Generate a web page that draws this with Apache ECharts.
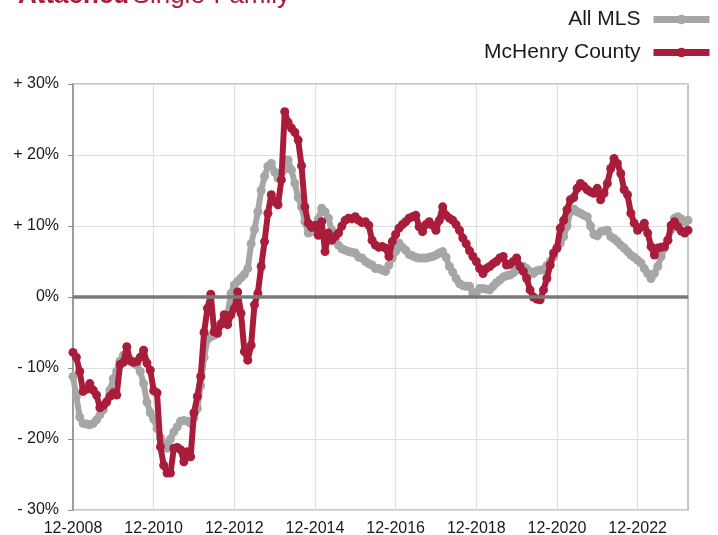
<!DOCTYPE html>
<html>
<head>
<meta charset="utf-8">
<script src="https://cdn.jsdelivr.net/npm/echarts@6/dist/echarts.min.js"></script>
<style>
  html, body { margin: 0; padding: 0; background: #fff; }
  #chart { width: 718px; height: 535px; }
</style>
</head>
<body>
<div id="chart"></div>
<script>
// months 12-2008 .. 03-2024
var months = [];
(function(){
  var y = 2008, m = 12;
  for (var i = 0; i < 184; i++) {
    months.push((m < 10 ? '0' + m : '' + m) + '-' + y);
    m++; if (m > 12) { m = 1; y++; }
  }
})();

var xTickLabels = ['12-2008','12-2010','12-2012','12-2014','12-2016','12-2018','12-2020','12-2022'];
var yTickLabels = ['- 30%','- 20%','- 10%','0%','+ 10%','+ 20%','+ 30%'];

var allMLS = [
  -11.2,-14.0,-16.9,-17.8,-17.9,-18.0,-17.8,-17.3,-16.6,-15.9,-14.7,-13.1,-11.5,-10.5,-9.0,-8.2,
  -8.4,-8.8,-9.3,-9.6,-10.5,-12.2,-14.8,-16.3,-17.2,-18.5,-19.8,-20.6,-21.3,-20.0,-19.0,-18.3,
  -17.5,-17.4,-17.5,-17.8,-17.0,-15.7,-12.5,-8.5,-6.0,-5.6,-5.4,-4.6,-3.9,-3.3,-2.5,0.5,
  1.7,2.2,2.7,3.2,4.0,7.5,9.5,12.0,15.0,17.0,18.4,18.8,17.6,16.7,17.5,18.0,
  19.3,17.9,16.0,14.0,12.7,10.6,9.0,9.2,9.4,11.0,12.5,12.0,11.1,9.4,8.2,7.3,
  6.8,6.6,6.4,6.3,6.2,5.6,5.5,5.0,4.7,4.5,4.0,4.0,3.8,3.6,4.5,5.5,
  6.4,7.6,7.0,6.6,6.0,5.8,5.6,5.5,5.5,5.5,5.6,5.7,5.9,6.2,6.4,5.6,
  4.3,3.5,2.6,1.9,1.6,1.5,1.5,0.5,0.6,1.2,1.2,1.1,1.0,1.5,2.0,2.4,
  2.8,3.0,3.1,3.4,3.8,4.2,4.3,4.0,3.6,3.3,3.7,3.8,3.8,4.4,5.0,5.7,
  6.8,7.6,8.5,10.0,12.0,12.4,12.0,11.8,11.5,11.3,10.0,8.8,8.6,9.2,9.3,9.4,
  8.5,8.2,7.8,7.3,6.9,6.4,5.9,5.6,5.2,4.8,4.0,3.3,2.6,3.3,4.3,5.7,
  6.9,8.0,9.5,11.1,11.3,11.0,10.6,10.8
];

var mcHenry = [
  -7.8,-8.5,-10.5,-13.3,-13.0,-12.2,-13.1,-13.8,-15.6,-15.3,-14.8,-14.0,-13.5,-13.8,-9.5,-9.2,
  -7.0,-9.0,-9.2,-9.1,-8.5,-7.5,-9.3,-10.3,-13.2,-13.5,-21.1,-23.7,-24.8,-24.8,-21.3,-21.2,
  -21.5,-23.2,-21.8,-22.5,-16.3,-14.0,-11.2,-5.0,-1.6,0.4,-4.9,-5.1,-3.8,-2.5,-3.9,-2.5,
  -1.6,0.7,-2.3,-7.7,-8.9,-6.8,-1.1,0.5,4.3,7.8,11.8,14.4,13.4,13.0,16.5,26.1,
  24.6,23.8,23.2,22.1,18.5,12.7,10.4,9.8,10.1,8.7,10.6,6.4,9.0,8.0,8.5,9.0,
  10.0,10.8,11.1,11.0,11.3,10.8,10.5,10.6,10.1,8.0,7.3,7.0,7.1,6.9,5.7,7.8,
  8.8,9.7,10.2,10.6,11.1,11.3,11.5,9.9,9.2,10.2,10.6,10.1,9.4,10.8,12.7,11.5,
  11.1,10.8,10.2,9.4,8.3,7.5,6.5,5.7,5.0,4.0,3.3,4.0,4.3,4.7,5.0,5.5,
  5.7,4.5,4.6,5.0,5.5,4.3,3.6,2.6,1.0,0.0,-0.3,-0.4,1.0,2.6,4.5,6.2,
  6.9,9.7,10.8,12.3,13.7,14.0,15.3,16.0,15.6,15.1,14.8,14.6,15.3,13.7,14.6,16.0,
  18.1,19.5,18.8,17.4,15.1,14.4,11.8,10.4,9.4,9.8,10.4,9.0,7.1,5.9,6.9,7.0,
  7.1,8.0,10.1,10.6,9.9,9.3,9.0,9.4
];

var grey = '#a6a6a6', red = '#a91d3a';
var font = '"Liberation Sans", Arial, sans-serif';

var chart = echarts.init(document.getElementById('chart'));

chart.setOption({
  animation: false,
  backgroundColor: '#fff',
  textStyle: { fontFamily: font },
  graphic: [{
    type: 'text',
    x: 18, y: -17,
    style: {
      text: '{b|Attached} {n|Single-Family}',
      rich: {
        b: { fontSize: 26, fontWeight: 'bold', fill: red, fontFamily: font },
        n: { fontSize: 26, fill: red, fontFamily: font }
      }
    }
  }],
  legend: {
    orient: 'vertical',
    right: 0,
    top: 4,
    align: 'right',
    itemWidth: 56,
    itemHeight: 12,
    itemGap: 12,
    lineStyle: { width: 7 },
    textStyle: { fontSize: 21, color: '#1a1a1a', padding: [0, 8, 0, 0] },
    data: ['All MLS', 'McHenry County']
  },
  grid: {
    left: 73, right: 30, top: 84, bottom: 25,
    outerBoundsMode: 'none',
    containLabel: false,
    show: true, borderColor: '#b3b3b3', borderWidth: 1.5
  },
  xAxis: {
    type: 'category',
    boundaryGap: false,
    data: months,
    axisTick: { show: false },
    axisLine: { lineStyle: { color: '#8c8c8c', width: 1.5 } },
    axisLabel: {
      interval: function(i){ return i % 24 === 0; },
      margin: 11,
      fontSize: 16,
      color: '#1a1a1a',
      formatter: function(v){ return xTickLabels.indexOf(v) >= 0 ? v : ''; }
    },
    splitLine: {
      show: true,
      interval: function(i){ return i % 24 === 0; },
      lineStyle: { color: '#dedede', width: 1.2 }
    }
  },
  yAxis: {
    type: 'value',
    min: -30, max: 30, interval: 10,
    axisLine: { show: true, lineStyle: { color: '#8c8c8c', width: 1.5 } },
    axisTick: { show: true, length: 5, lineStyle: { color: '#8c8c8c' } },
    axisLabel: {
      margin: 14,
      fontSize: 16,
      color: '#1a1a1a',
      formatter: function(v){ return yTickLabels[(v + 30) / 10]; }
    },
    splitLine: { lineStyle: { color: '#dedede', width: 1.2 } }
  },
  series: [{
    name: 'All MLS',
    type: 'line',
    data: allMLS,
    color: grey,
    symbol: 'circle',
    symbolSize: 9,
    showAllSymbol: true,
    lineStyle: { width: 6, color: grey },
    itemStyle: { color: grey },
    markLine: {
      silent: true,
      symbol: 'none',
      label: { show: false },
      lineStyle: { color: '#7a7a7a', width: 3.5, type: 'solid' },
      data: [{ yAxis: 0 }]
    },
    z: 2
  },{
    name: 'McHenry County',
    type: 'line',
    data: mcHenry,
    color: red,
    symbol: 'circle',
    symbolSize: 9,
    showAllSymbol: true,
    lineStyle: { width: 6, color: red },
    itemStyle: { color: red },
    z: 3
  }]
});
</script>
</body>
</html>
